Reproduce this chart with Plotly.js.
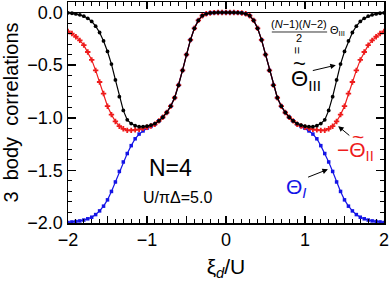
<!DOCTYPE html>
<html>
<head>
<meta charset="utf-8">
<script src="https://cdn.plot.ly/plotly-3.0.1.min.js"></script>
<style>html,body{margin:0;padding:0;background:#fff;}#chart{width:390px;height:281px;}</style>
</head>
<body>
<div id="chart"></div>
<script>
// x values (xi_d / U)
const xi = [-2.0,-1.95,-1.9,-1.85,-1.8,-1.75,-1.7,-1.65,-1.6,-1.55,-1.5,-1.45,-1.4,-1.35,-1.3,-1.25,-1.2,-1.15,-1.1,-1.05,-1.0,-0.95,-0.9,-0.85,-0.8,-0.75,-0.7,-0.65,-0.6,-0.55,-0.5,-0.45,-0.4,-0.35,-0.3,-0.25,-0.2,-0.15,-0.1,-0.05,0.0,0.05,0.1,0.15,0.2,0.25,0.3,0.35,0.4,0.45,0.5,0.55,0.6,0.65,0.7,0.75,0.8,0.85,0.9,0.95,1.0,1.05,1.1,1.15,1.2,1.25,1.3,1.35,1.4,1.45,1.5,1.55,1.6,1.65,1.7,1.75,1.8,1.85,1.9,1.95,2.0];

// black: tilde Theta_III
const thetaIII = [-0.003,-0.007,-0.013,-0.022,-0.035,-0.055,-0.085,-0.13,-0.19,-0.27,-0.37,-0.49,-0.64,-0.80,-0.93,-1.02,-1.055,-1.075,-1.085,-1.085,-1.08,-1.07,-1.055,-1.03,-0.995,-0.95,-0.89,-0.81,-0.69,-0.55,-0.40,-0.26,-0.15,-0.075,-0.03,-0.012,-0.004,-0.001,0,0,0,0,0,-0.001,-0.004,-0.012,-0.03,-0.075,-0.15,-0.26,-0.40,-0.55,-0.69,-0.81,-0.89,-0.95,-0.995,-1.03,-1.055,-1.07,-1.08,-1.085,-1.085,-1.075,-1.055,-1.02,-0.93,-0.80,-0.64,-0.49,-0.37,-0.27,-0.19,-0.13,-0.085,-0.055,-0.035,-0.022,-0.013,-0.007,-0.003];

// red: -tilde Theta_II
const thetaII = [-0.18,-0.20,-0.23,-0.265,-0.31,-0.375,-0.45,-0.55,-0.66,-0.77,-0.89,-0.97,-1.035,-1.08,-1.105,-1.12,-1.12,-1.115,-1.11,-1.10,-1.09,-1.078,-1.062,-1.03,-0.995,-0.95,-0.89,-0.81,-0.69,-0.55,-0.40,-0.26,-0.15,-0.075,-0.03,-0.012,-0.004,-0.001,0,0,0,0,0,-0.001,-0.004,-0.012,-0.03,-0.075,-0.15,-0.26,-0.40,-0.55,-0.69,-0.81,-0.89,-0.95,-0.995,-1.03,-1.062,-1.078,-1.09,-1.10,-1.11,-1.115,-1.12,-1.12,-1.105,-1.08,-1.035,-0.97,-0.89,-0.77,-0.66,-0.55,-0.45,-0.375,-0.31,-0.265,-0.23,-0.20,-0.18];

// blue: Theta_I
const thetaI = [-1.995,-1.99,-1.986,-1.98,-1.972,-1.96,-1.945,-1.92,-1.885,-1.84,-1.78,-1.70,-1.61,-1.51,-1.42,-1.34,-1.265,-1.20,-1.155,-1.125,-1.10,-1.082,-1.062,-1.03,-0.995,-0.95,-0.89,-0.81,-0.69,-0.55,-0.40,-0.26,-0.15,-0.075,-0.03,-0.012,-0.004,-0.001,0,0,0,0,0,-0.001,-0.004,-0.012,-0.03,-0.075,-0.15,-0.26,-0.40,-0.55,-0.69,-0.81,-0.89,-0.95,-0.995,-1.03,-1.062,-1.082,-1.10,-1.125,-1.155,-1.20,-1.265,-1.34,-1.42,-1.51,-1.61,-1.70,-1.78,-1.84,-1.885,-1.92,-1.945,-1.96,-1.972,-1.98,-1.986,-1.99,-1.995];

const xTickVals = [-2,-1.5,-1,-0.5,0,0.5,1,1.5,2];
const xTickText = ['\u22122','','\u22121','','0','','1','','2'];
const yTickVals = [0,-0.5,-1,-1.5,-2];
const yTickText = ['0.0','\u22120.5','\u22121.0','\u22121.5','\u22122.0'];

const FONT = 'Liberation Sans, Arial, sans-serif';
const BLUE = '#1414e6', RED = '#ee1c1c', BLACK = '#000000';

const traces = [
  {x: xi, y: thetaI, mode: 'lines+markers', line: {color: BLUE, width: 1.2}, marker: {symbol: 'square', size: 3.5, color: BLUE}},
  {x: xi, y: thetaII, mode: 'lines+markers', line: {color: RED, width: 1.2}, marker: {symbol: 'cross', size: 4.5, color: RED}},
  {x: xi, y: thetaIII, mode: 'lines+markers', line: {color: BLACK, width: 1.2}, marker: {symbol: 'circle', size: 3.8, color: BLACK}}
];

const arrow = (x, y, ax, ay) => ({x: x, y: y, ax: ax, ay: ay, xref: 'x', yref: 'y', axref: 'x', ayref: 'y', text: '', showarrow: true, arrowhead: 2, arrowsize: 1.1, arrowwidth: 1, arrowcolor: '#000'});

const layout = {
  width: 390, height: 281,
  margin: {l: 68, r: 6, t: 2, b: 58},
  paper_bgcolor: '#fff', plot_bgcolor: '#fff',
  showlegend: false,
  font: {family: FONT, color: '#000', size: 18},
  xaxis: {
    range: [-2, 2], tickmode: 'array', tickvals: xTickVals, ticktext: xTickText,
    ticks: 'inside', ticklen: 7, tickwidth: 1.5, tickcolor: '#000',
    showline: true, linewidth: 1.5, linecolor: '#000', mirror: 'ticks',
    showgrid: false, zeroline: false,
    minor: {ticks: 'inside', tick0: 0, dtick: 0.1, ticklen: 4, tickwidth: 1, tickcolor: '#000', showgrid: false},
    tickfont: {size: 18, family: FONT},
    title: {text: '\u03be<sub><i>d</i></sub>/U', font: {size: 21, family: FONT}, standoff: 12}
  },
  yaxis: {
    range: [-2, 0.1], tickmode: 'array', tickvals: yTickVals, ticktext: yTickText,
    ticks: 'inside', ticklen: 8, tickwidth: 1.5, tickcolor: '#000',
    showline: true, linewidth: 1.5, linecolor: '#000', mirror: 'ticks',
    showgrid: false, zeroline: true, zerolinecolor: '#000', zerolinewidth: 1,
    minor: {ticks: 'inside', tick0: 0, dtick: 0.1, ticklen: 4, tickwidth: 1, tickcolor: '#000', showgrid: false},
    tickfont: {size: 18, family: FONT},
    title: {text: '3\u00a0\u00a0body\u00a0\u00a0correlations', font: {size: 20, family: FONT}, standoff: 6}
  },
  shapes: [
    {type: 'line', xref: 'x', yref: 'y', x0: 0.58, x1: 1.28, y0: -0.185, y1: -0.185, line: {color: '#000', width: 0.8}}
  ],
  annotations: [
    {x: -0.70, y: -1.48, xref: 'x', yref: 'y', text: 'N=4', showarrow: false, font: {size: 23, family: FONT}},
    {x: -0.61, y: -1.76, xref: 'x', yref: 'y', text: 'U/\u03c0\u0394=5.0', showarrow: false, font: {size: 16, family: FONT}},
    {x: 0.93, y: -0.11, xref: 'x', yref: 'y', text: '(<i>N</i>\u22121)(<i>N</i>\u22122)', showarrow: false, font: {size: 11, family: FONT}},
    {x: 0.93, y: -0.24, xref: 'x', yref: 'y', text: '2', showarrow: false, font: {size: 11, family: FONT}},
    {x: 1.405, y: -0.176, xref: 'x', yref: 'y', text: '\u0398<sub>III</sub>', showarrow: false, font: {size: 11, family: FONT}},
    {x: 0.91, y: -0.36, xref: 'x', yref: 'y', text: '=', textangle: 90, showarrow: false, font: {size: 13, family: FONT}},
    // Theta_III label with tilde
    {x: 1.01, y: -0.64, xref: 'x', yref: 'y', text: '\u0398<sub>III</sub>', showarrow: false, font: {size: 22, family: FONT, color: BLACK}},
    {x: 0.93, y: -0.485, xref: 'x', yref: 'y', text: '~', showarrow: false, font: {size: 22, family: FONT, color: BLACK}},
    // -Theta_II label with tilde
    {x: 1.645, y: -1.32, xref: 'x', yref: 'y', text: '\u2212\u0398<sub>II</sub>', showarrow: false, font: {size: 21, family: FONT, color: RED}},
    {x: 1.67, y: -1.175, xref: 'x', yref: 'y', text: '~', showarrow: false, font: {size: 21, family: FONT, color: RED}},
    // Theta_I label
    {x: 0.886, y: -1.67, xref: 'x', yref: 'y', text: '\u0398<sub><i>I</i></sub>', showarrow: false, font: {size: 21, family: FONT, color: BLUE}},
    arrow(1.39, -0.50, 1.08, -0.555),
    arrow(1.42, -1.08, 1.58, -1.18),
    arrow(1.29, -1.49, 1.02, -1.57)
  ]
};

Plotly.newPlot('chart', traces, layout, {displayModeBar: false, staticPlot: true});
</script>
</body>
</html>
